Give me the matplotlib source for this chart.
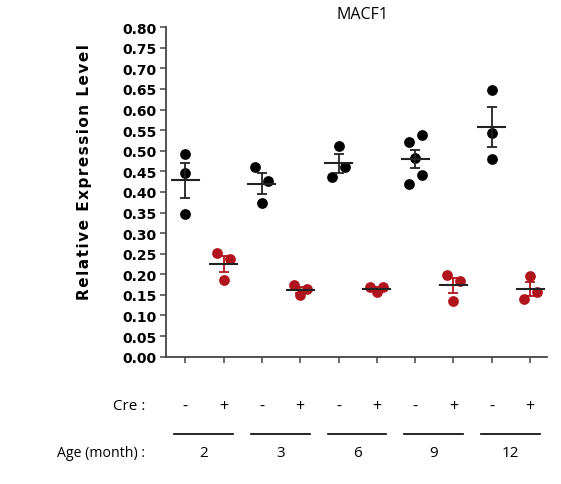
import numpy as np
import matplotlib
matplotlib.use("Agg")
from matplotlib import pyplot as plt

# Data
ages = ["2", "3", "6", "9", "12"]
cre_labels = ["-", "+"]
ctrl_values = [
    [0.493, 0.445, 0.346],
    [0.461, 0.427, 0.372],
    [0.512, 0.461, 0.435],
    [0.521, 0.537, 0.483, 0.440, 0.420],
    [0.647, 0.544, 0.481],
]
cre_values = [
    [0.251, 0.236, 0.186],
    [0.175, 0.164, 0.150],
    [0.168, 0.168, 0.156],
    [0.199, 0.184, 0.136],
    [0.196, 0.158, 0.140],
]
# horizontal scatter of the dots within each column (same order as values)
ctrl_jitter = [[0, 0, 0], [-1, 1, 0], [0, 1, -1], [-1, 1, 0, 1, -1], [0, 0, 0]]
cre_jitter = [[-1, 1, 0], [-1, 1, 0], [-1, 1, 0], [-1, 1, 0], [0, 1, -1]]

RED = "#b0141c"
fig = plt.figure(figsize=(5.61, 4.85), dpi=100)
ax = fig.add_axes([0.296, 0.2625, 0.679, 0.6795])


def draw_group(x, vals, jit, color, err_color):
    vals = np.asarray(vals)
    xs = x + 0.17 * np.asarray(jit)
    ax.scatter(xs, vals, s=60, color=color, zorder=3, linewidths=0)
    mean = vals.mean()
    sem = vals.std(ddof=1) / np.sqrt(len(vals))
    ax.errorbar(x, mean, yerr=sem, fmt="none", ecolor=err_color,
                elinewidth=1.3, capsize=3.5, capthick=1.3, zorder=4)
    ax.plot([x - 0.35, x + 0.35], [mean, mean], color="#222222", lw=1.5, zorder=4)


for i in range(len(ages)):
    draw_group(2 * i + 1, ctrl_values[i], ctrl_jitter[i], "black", "#222222")
    draw_group(2 * i + 2, cre_values[i], cre_jitter[i], RED, RED)

ax.set_xlim(0.5, 10.44)
ax.set_ylim(0, 0.8)
ax.set_yticks(np.arange(0, 0.81, 0.05))
ax.set_yticklabels(["%.2f" % v for v in np.arange(0, 0.81, 0.05)],
                   fontweight="bold", fontsize=10)
ax.set_xticks(range(1, 11))
ax.set_xticklabels([])
for side in ["top", "right"]:
    ax.spines[side].set_visible(False)
for side in ["left", "bottom"]:
    ax.spines[side].set_color("#444444")
    ax.spines[side].set_linewidth(1.3)
ax.tick_params(axis="both", direction="out", length=4, width=1.1, color="#444444", pad=3)

# letter-spaced axis label
ylab = "\u200a".join("Relative Expression Level")
ax.set_ylabel(ylab, fontweight="bold", fontsize=11)
ax.yaxis.set_label_coords(-0.195, 0.563)

# labels under the axis
txt_font = "Open Sans"
fig.text(145 / 561, 1 - 407 / 485, "Cre :", ha="right", va="center", fontsize=11, family=txt_font)
fig.text(145 / 561, 1 - 454 / 485, "Age (month) :", ha="right", va="center", fontsize=10.2, family=txt_font)
for i, age in enumerate(ages):
    for j, lab in enumerate(cre_labels):
        xd = 2 * i + 1 + j
        xf = fig.transFigure.inverted().transform(ax.transData.transform((xd, 0)))[0]
        fig.text(xf, 1 - 407 / 485, lab, ha="center", va="center", fontsize=11.5, family=txt_font)
    x0 = fig.transFigure.inverted().transform(ax.transData.transform((2 * i + 0.72, 0)))[0]
    x1 = fig.transFigure.inverted().transform(ax.transData.transform((2 * i + 2.25, 0)))[0]
    fig.add_artist(plt.Line2D([x0, x1], [1 - 435 / 485] * 2, color="black", lw=1.2,
                              transform=fig.transFigure))
    fig.text((x0 + x1) / 2, 1 - 454 / 485, age, ha="center", va="center", fontsize=11, family=txt_font)

fig.text(363 / 561, 1 - 15 / 485, "MACF1", ha="center", va="center", fontsize=11.5, family=txt_font)

fig.savefig("out.png", dpi=100)
